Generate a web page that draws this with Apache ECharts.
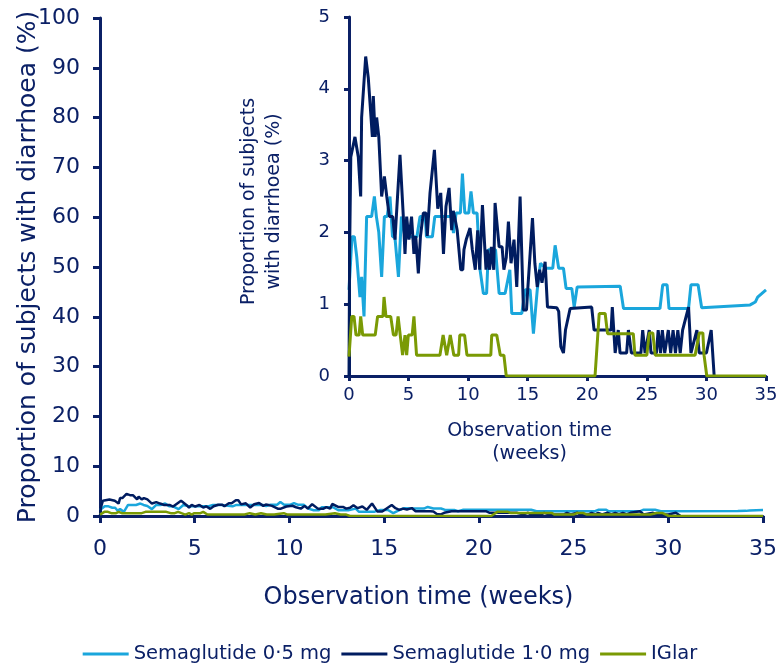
<!DOCTYPE html>
<html>
<head>
<meta charset="utf-8">
<script src="https://cdn.jsdelivr.net/npm/echarts@6/dist/echarts.min.js"></script>
<style>
  html, body { margin: 0; padding: 0; background: #fff; }
  #chart { width: 780px; height: 666px; }
</style>
</head>
<body>
<div id="chart"></div>
<script>
// [week, % of subjects with diarrhoea]
const sema05 = [
  [0, 1.2], [0.25, 1.94], [0.45, 1.94], [0.65, 1.66], [0.8, 1.66], [0.92, 1.1], [1.06, 1.38],
  [1.26, 0.83], [1.48, 2.22], [1.9, 2.22], [2.13, 2.5], [2.3, 2.22], [2.5, 2.0], [2.74, 1.38],
  [2.97, 2.22], [3.2, 2.22], [3.44, 2.5], [3.65, 1.94], [3.85, 1.94], [4.15, 1.38], [4.4, 2.22],
  [4.7, 1.94], [5.7, 1.94], [5.96, 2.22], [6.4, 2.22], [6.5, 1.94], [7.0, 1.94], [7.2, 2.22],
  [8.6, 2.22], [8.77, 1.99], [8.99, 2.27], [9.35, 2.27], [9.52, 2.82], [9.72, 2.27], [10.05, 2.27],
  [10.24, 2.57], [10.44, 2.27], [10.75, 2.27], [11.0, 1.48], [11.28, 1.15], [11.55, 1.15],
  [11.7, 1.76], [12.3, 1.76], [12.6, 1.15], [13.1, 1.15], [13.5, 1.48], [13.66, 0.87], [14.5, 0.87],
  [14.8, 1.2], [15.2, 1.2], [15.48, 0.59], [15.8, 1.2], [16.07, 1.57], [16.5, 1.5], [17.1, 1.5],
  [17.3, 1.82], [17.6, 1.5], [18.0, 1.5], [18.22, 1.22], [18.7, 1.22], [18.9, 0.96], [19.15, 1.24],
  [22.76, 1.25], [23.04, 0.94], [26.1, 0.94], [26.33, 1.27], [26.7, 1.27], [26.86, 0.94],
  [28.5, 0.94], [28.7, 1.27], [29.3, 1.27], [29.6, 0.95], [33.67, 0.99], [34.1, 1.03],
  [34.3, 1.1], [35, 1.2]
];

const sema10 = [
  [0, 0], [0.05, 1.7], [0.15, 3.05], [0.5, 3.33], [0.78, 3.05], [0.98, 2.5], [1.06, 3.6],
  [1.18, 3.6], [1.4, 4.45], [1.62, 4.15], [1.75, 4.15], [1.96, 3.33], [2.04, 3.9], [2.2, 3.33],
  [2.32, 3.6], [2.5, 3.33], [2.74, 2.5], [2.97, 2.78], [3.17, 2.5], [3.39, 2.22], [3.67, 2.22],
  [3.86, 1.9], [4.28, 3.08], [4.56, 2.22], [4.7, 1.7], [4.84, 2.22], [5.03, 1.9], [5.25, 2.22],
  [5.45, 1.7], [5.6, 1.95], [5.82, 1.43], [6.0, 1.95], [6.24, 2.27], [6.46, 2.27], [6.57, 1.95],
  [6.8, 2.55], [6.95, 2.55], [7.17, 3.15], [7.3, 3.15], [7.45, 2.33], [7.7, 2.55], [7.93, 1.7],
  [8.14, 2.36], [8.4, 2.62], [8.62, 2.03], [8.75, 2.3], [8.9, 2.19], [9.08, 2.03], [9.38, 1.48],
  [9.55, 1.48], [9.65, 1.76], [9.84, 1.9], [10.16, 2.06], [10.35, 1.76], [10.6, 1.48],
  [10.8, 2.03], [10.97, 1.48], [11.2, 2.38], [11.5, 1.48], [11.6, 1.76], [11.8, 1.48],
  [11.95, 1.8], [12.15, 1.48], [12.26, 2.41], [12.6, 1.8], [12.85, 1.8], [13.0, 1.48],
  [13.2, 1.65], [13.38, 2.15], [13.6, 1.57], [13.85, 1.9], [14.08, 1.24], [14.36, 2.5],
  [14.64, 0.92], [14.9, 0.92], [15.0, 1.2], [15.4, 2.2], [15.6, 1.57], [15.8, 1.24], [16.0, 1.48],
  [16.2, 1.3], [16.46, 1.59], [16.66, 0.96], [17.44, 0.95], [17.6, 0.9], [17.78, 0.41],
  [18.0, 0.32], [18.1, 0.32], [18.17, 0.64], [18.56, 0.94], [20.37, 0.96], [20.57, 0.64],
  [22.0, 0.64], [22.1, 0.96], [22.34, 0.32], [22.6, 0.64], [22.75, 0.32], [23.3, 0.32],
  [23.45, 0.64], [23.7, 0.32], [24.5, 0.32], [24.65, 0.64], [24.85, 0.32], [25.2, 0.64],
  [25.35, 0.32], [25.8, 0.32], [25.95, 0.64], [26.15, 0.32], [26.3, 0.64], [26.5, 0.32],
  [26.8, 0.64], [27.0, 0.32], [27.2, 0.64], [27.4, 0.32], [27.6, 0.64], [27.8, 0.32],
  [28.0, 0.64], [28.5, 0.96], [28.7, 0.32], [29.2, 0.64], [29.4, 0.32], [30.0, 0.32],
  [30.4, 0.64], [30.65, 0]
];

const iglar = [
  [0, 0.27], [0.1, 0.27], [0.23, 0.83], [0.42, 0.83], [0.59, 0.57], [0.85, 0.57], [0.98, 0.83],
  [1.08, 0.83], [1.15, 0.57], [2.2, 0.57], [2.4, 0.83], [2.85, 0.83], [2.94, 1.1], [3.1, 0.83],
  [3.5, 0.83], [3.73, 0.57], [3.95, 0.57], [4.12, 0.83], [4.3, 0.57], [4.5, 0.29], [4.7, 0.57],
  [4.84, 0.29], [4.98, 0.57], [5.3, 0.57], [5.45, 0.83], [5.67, 0.29], [7.63, 0.29], [7.9, 0.57],
  [8.2, 0.29], [8.5, 0.57], [8.8, 0.29], [9.2, 0.29], [9.3, 0.57], [9.7, 0.57], [9.9, 0.29],
  [11.9, 0.29], [11.98, 0.57], [12.4, 0.57], [12.7, 0.29], [13.0, 0.29], [13.2, 0], [20.65, 0],
  [21.0, 0.87], [21.5, 0.87], [21.7, 0.59], [23.86, 0.59], [24.0, 0.29], [25.0, 0.29],
  [25.2, 0.6], [25.5, 0.6], [25.7, 0.29], [29.05, 0.29], [29.4, 0.6], [29.7, 0.6], [29.8, 0.29],
  [30.03, 0], [35, 0]
];

const seriesNames = ["Semaglutide 0·5 mg", "Semaglutide 1·0 mg", "IGlar"];
const seriesColors = ["#1aa6dc", "#001c60", "#7a9a04"];
const seriesData = [sema05, sema10, iglar];

const navy = "#0b2066";
const font = "DejaVu Sans";

function makeAxis(gridIndex, axisMax, interval, labelSize, tickLen) {
  return {
    type: "value",
    gridIndex,
    min: 0,
    max: axisMax,
    interval,
    splitLine: { show: false },
    axisLine: { show: true, onZero: false, lineStyle: { color: navy, width: 3 } },
    axisTick: { show: true, inside: false, length: tickLen, lineStyle: { color: navy, width: 3 } },
    axisLabel: { color: navy, fontSize: labelSize, fontFamily: font },
    nameTextStyle: { color: navy, fontFamily: font }
  };
}

const mainX = makeAxis(0, 35, 5, 22, 7);
mainX.axisLabel.margin = 22;
mainX.name = "Observation time (weeks)";
mainX.nameLocation = "middle";
mainX.nameGap = 70;
mainX.nameTextStyle.fontSize = 24;
mainX.nameTextStyle.padding = [0, 26, 0, 0];

const mainY = makeAxis(0, 100, 10, 22, 7);
mainY.axisLabel.margin = 20;
mainY.name = "Proportion of subjects with diarrhoea (%)";
mainY.nameLocation = "middle";
mainY.nameGap = 59;
mainY.nameMoveOverlap = false;
mainY.nameTextStyle.fontSize = 25;

const insetX = makeAxis(1, 35, 5, 18, 5);
insetX.axisLabel.margin = 10;
insetX.name = "Observation time\n(weeks)";
insetX.nameLocation = "middle";
insetX.nameGap = 44;
insetX.nameTextStyle.fontSize = 19;
insetX.nameTextStyle.lineHeight = 23;
insetX.nameTextStyle.padding = [0, 56, 0, 0];

const insetY = makeAxis(1, 5, 1, 18, 5);
insetY.axisLabel.margin = 19;
insetY.name = "Proportion of subjects\nwith diarrhoea (%)";
insetY.nameLocation = "middle";
insetY.nameGap = 62;
insetY.nameTextStyle.fontSize = 19;
insetY.nameTextStyle.lineHeight = 25;
insetY.nameTextStyle.padding = [0, 10, 0, 0];

const series = [];
[0, 1].forEach(g => {
  seriesData.forEach((data, i) => {
    series.push({
      type: "line",
      name: seriesNames[i],
      xAxisIndex: g,
      yAxisIndex: g,
      data,
      showSymbol: false,
      symbol: "none",
      lineStyle: { color: seriesColors[i], width: g === 0 ? 2.5 : 3 },
      itemStyle: { color: seriesColors[i] }
    });
  });
});

const chart = echarts.init(document.getElementById("chart"));
chart.setOption({
  animation: false,
  backgroundColor: "#fff",
  grid: [
    { left: 100, top: 18, width: 663, height: 498, outerBoundsMode: "none", containLabel: false },
    { left: 349, top: 17, width: 417, height: 359, outerBoundsMode: "none", containLabel: false }
  ],
  xAxis: [mainX, insetX],
  yAxis: [mainY, insetY],
  legend: {
    data: seriesNames,
    left: "center",
    top: 639,
    icon: "rect",
    itemWidth: 46,
    itemHeight: 3,
    itemGap: 10,
    textStyle: { color: navy, fontSize: 19.5, fontFamily: font }
  },
  series
});
</script>
</body>
</html>
